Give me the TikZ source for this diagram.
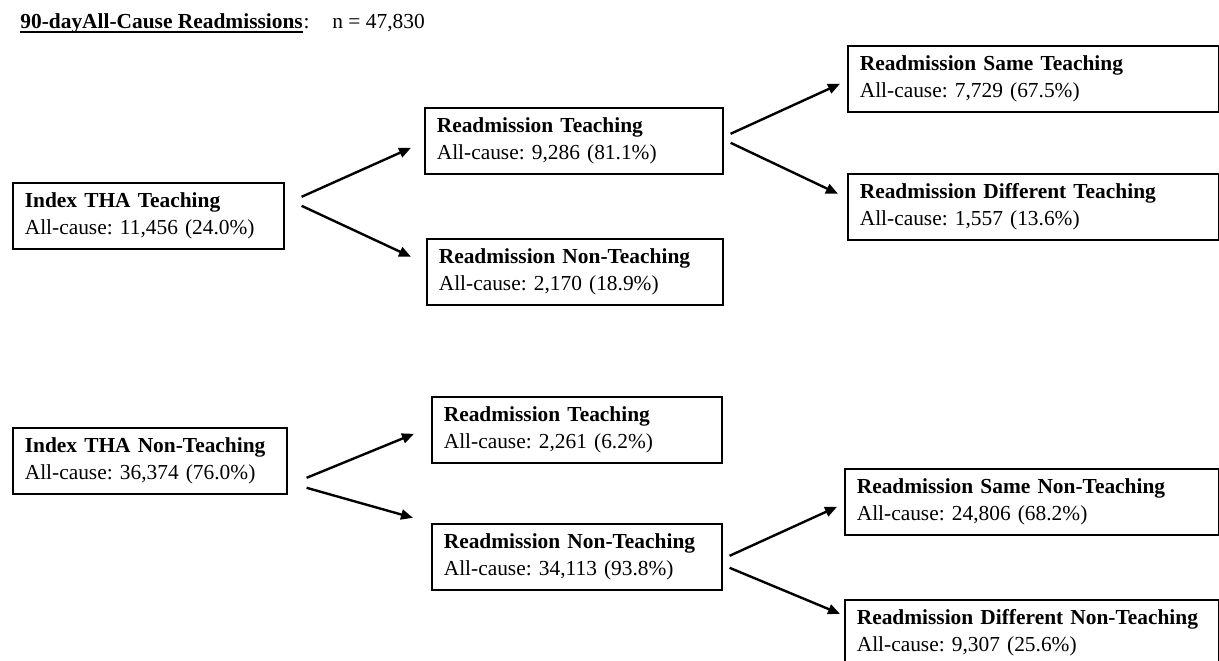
\documentclass[tikz,border=0pt]{standalone}
\usepackage{fontspec}
\setmainfont{Liberation Serif}
\usepackage{tikz}
\usetikzlibrary{arrows.meta,calc}

\begin{document}
\frenchspacing
\begin{tikzpicture}[x=0.5pt,y=-0.5pt,
    stagebox/.style={draw,line width=0.8pt,anchor=north west,align=left,
      inner xsep=6pt,inner ysep=0pt,minimum height=33pt,
      font=\fontsize{10.7}{13.5}\selectfont},
    flow/.style={-{Triangle[length=6pt,width=5pt]},line width=1.2pt}]
  \useasboundingbox (0,0) rectangle (1219,660);
  \node[anchor=base west,inner sep=0pt,font=\fontsize{10.7}{13.5}\selectfont\bfseries] (title) at (20,28)
    {90-dayAll-Cause Readmissions};
  \node[anchor=base west,inner sep=0pt,font=\fontsize{10.7}{13.5}\selectfont] (colon) at (title.base east) {:};
  \node[anchor=base west,inner sep=0pt,font=\fontsize{10.7}{13.5}\selectfont] (total) at (332,28) {n = 47,830};
  \draw[line width=0.8pt] ($(title.base west)+(0,4)$) -- ($(title.base east)+(0,4)$);

  \node[stagebox,text width=123.5pt] (idxT) at (12,182)
    {\textbf{Index THA Teaching}\\All-cause: 11,456 (24.0\%)};
  \node[stagebox,text width=137pt] (rdT1) at (424,107)
    {\textbf{Readmission Teaching}\\All-cause: 9,286 (81.1\%)};
  \node[stagebox,text width=136pt] (rdN1) at (426,238)
    {\textbf{Readmission Non-Teaching}\\All-cause: 2,170 (18.9\%)};
  \node[stagebox,text width=173.5pt] (sameT) at (847,45)
    {\textbf{Readmission Same Teaching}\\All-cause: 7,729 (67.5\%)};
  \node[stagebox,text width=173.5pt] (diffT) at (847,173)
    {\textbf{Readmission Different Teaching}\\All-cause: 1,557 (13.6\%)};

  \node[stagebox,text width=125pt] (idxN) at (12,427)
    {\textbf{Index THA Non-Teaching}\\All-cause: 36,374 (76.0\%)};
  \node[stagebox,text width=133pt] (rdT2) at (431,396)
    {\textbf{Readmission Teaching}\\All-cause: 2,261 (6.2\%)};
  \node[stagebox,text width=133pt] (rdN2) at (431,523)
    {\textbf{Readmission Non-Teaching}\\All-cause: 34,113 (93.8\%)};
  \node[stagebox,text width=175pt] (sameN) at (844,468)
    {\textbf{Readmission Same Non-Teaching}\\All-cause: 24,806 (68.2\%)};
  \node[stagebox,text width=175pt] (diffN) at (844,599)
    {\textbf{Readmission Different Non-Teaching}\\All-cause: 9,307 (25.6\%)};

  \draw[flow] ($(idxT.east)+(17,-19)$) -- ($(rdT1.west)+(-13,7)$);
  \draw[flow] ($(idxT.east)+(17,-10)$) -- ($(rdN1.west)+(-15,-15)$);
  \draw[flow] ($(rdT1.east)+(7,-7)$) -- ($(sameT.west)+(-7,5)$);
  \draw[flow] ($(rdT1.east)+(7,2)$) -- ($(diffT.west)+(-9,-13)$);
  \draw[flow] ($(idxN.east)+(19,17)$) -- ($(rdT2.west)+(-17,4)$);
  \draw[flow] ($(idxN.east)+(19,27)$) -- ($(rdN2.west)+(-18,-39)$);
  \draw[flow] ($(rdN2.east)+(7,-1)$) -- ($(sameN.west)+(-7,5)$);
  \draw[flow] ($(rdN2.east)+(7,11)$) -- ($(diffN.west)+(-4,-19)$);
\end{tikzpicture}
\end{document}
